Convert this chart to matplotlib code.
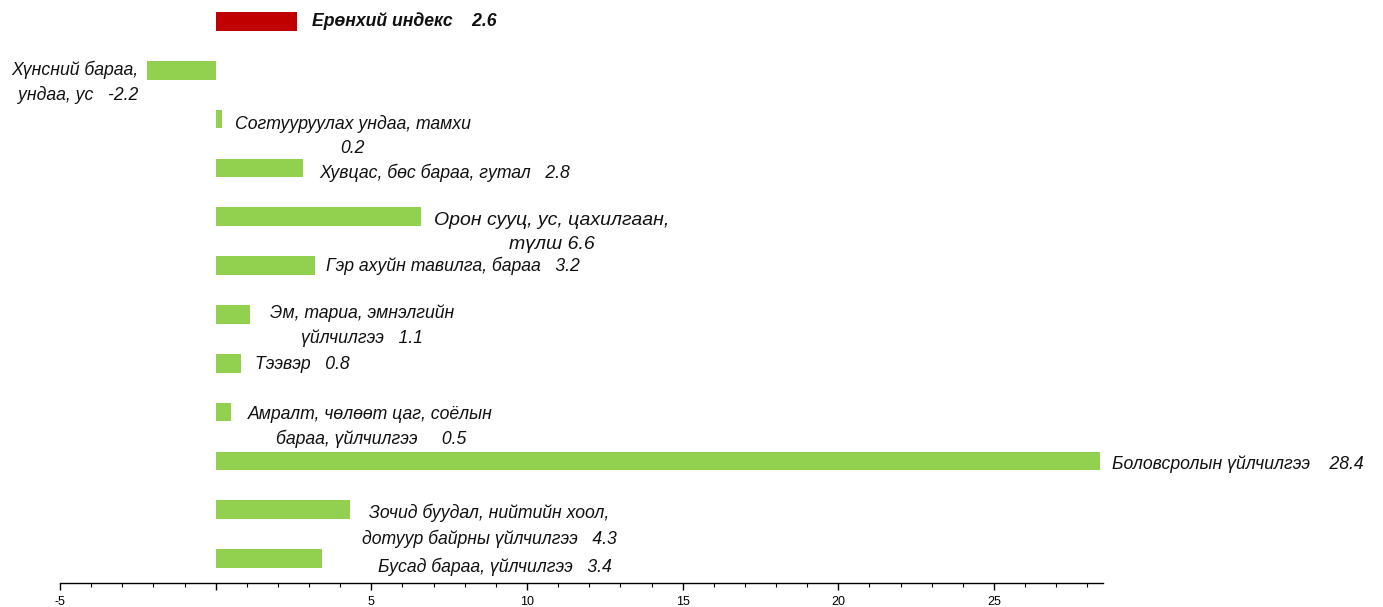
"""Horizontal bar chart: CPI change by group."""

import matplotlib
matplotlib.use("Agg")
import matplotlib.pyplot as plt
from matplotlib.ticker import MultipleLocator, FuncFormatter

plt.rcParams["font.family"] = ["Liberation Sans", "DejaVu Sans"]

# data
categories = [
    "Ерөнхий индекс",
    "Хүнсний бараа,\nундаа, ус",
    "Согтууруулах ундаа, тамхи",
    "Хувцас, бөс бараа, гутал",
    "Орон сууц, ус, цахилгаан,\nтүлш",
    "Гэр ахуйн тавилга, бараа",
    "Эм, тариа, эмнэлгийн\nүйлчилгээ",
    "Тээвэр",
    "Амралт, чөлөөт цаг, соёлын\nбараа, үйлчилгээ",
    "Боловсролын үйлчилгээ",
    "Зочид буудал, нийтийн хоол,\nдотуур байрны үйлчилгээ",
    "Бусад бараа, үйлчилгээ",
]
values = [2.6, -2.2, 0.2, 2.8, 6.6, 3.2, 1.1, 0.8, 0.5, 28.4, 4.3, 3.4]

# label text = category + value (how it's laid out in the source)
label_texts = [
    "Ерөнхий индекс    2.6",
    "Хүнсний бараа,\nундаа, ус   -2.2",
    "Согтууруулах ундаа, тамхи\n0.2",
    "Хувцас, бөс бараа, гутал   2.8",
    "Орон сууц, ус, цахилгаан,\nтүлш 6.6",
    "Гэр ахуйн тавилга, бараа   3.2",
    "Эм, тариа, эмнэлгийн\nүйлчилгээ   1.1",
    "Тээвэр   0.8",
    "Амралт, чөлөөт цаг, соёлын\nбараа, үйлчилгээ     0.5",
    "Боловсролын үйлчилгээ    28.4",
    "Зочид буудал, нийтийн хоол,\nдотуур байрны үйлчилгээ   4.3",
    "Бусад бараа, үйлчилгээ   3.4",
]

# label layout: (dx px, dy px, ha, fontsize)
label_layout = [
    (15, 0, "left", 12.7),
    (-9, -12, "right", 12.7),
    (13, -17, "left", 12.7),
    (16, -5, "left", 12.7),
    (13, -16, "left", 14),
    (11, 0, "left", 12.7),
    (20, -11, "left", 12.7),
    (14, -1, "left", 12.7),
    (17, -15, "left", 12.7),
    (12, -3, "left", 12.7),
    (12, -16, "left", 12.7),
    (56, -8, "left", 12.7),
]

GREEN = "#92D050"
RED = "#C00000"

fig = plt.figure(figsize=(13.83, 6.07), dpi=100)
ax = fig.add_axes([60 / 1383, 24 / 607, 1043 / 1383, 586 / 607])

n = len(values)
ypos = list(range(n))[::-1]
colors = [RED] + [GREEN] * (n - 1)
ax.barh(ypos, values, height=0.38, color=colors)

for i, (txt, v, y) in enumerate(zip(label_texts, values, ypos)):
    dx, dy, ha, fs = label_layout[i]
    malign = "center" if ha == "left" else ha
    ax.annotate(txt, xy=(v, y), xytext=(dx, dy), textcoords="offset pixels",
                ha=ha, va="center", multialignment=malign,
                fontsize=fs, fontstyle="italic",
                fontweight="bold" if i == 0 else "normal",
                color="#111111", linespacing=1.5)

ax.set_xlim(-5, 28.5)
ax.set_ylim(-0.5, n - 0.5)
ax.xaxis.set_major_locator(MultipleLocator(5))
ax.xaxis.set_minor_locator(MultipleLocator(1))
ax.xaxis.set_major_formatter(FuncFormatter(lambda x, p: "" if abs(x) < 1e-9 else f"{x:g}"))
ax.tick_params(axis="x", which="major", direction="out", length=5, width=1,
               labelsize=9, pad=4.5, colors="#000000")
ax.tick_params(axis="x", which="minor", direction="out", length=3, width=0.8)
ax.set_yticks([])
for s in ["top", "right", "left"]:
    ax.spines[s].set_visible(False)
ax.spines["bottom"].set_color("#000000")
ax.spines["bottom"].set_linewidth(1)
ax.patch.set_alpha(0)

fig.savefig("out.png", dpi=100)
